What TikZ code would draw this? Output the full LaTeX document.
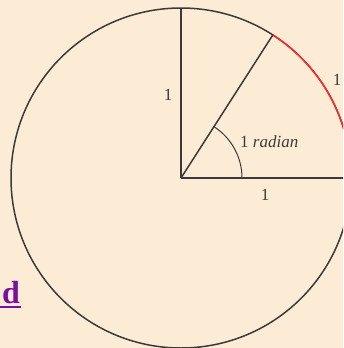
\documentclass[tikz,border=0pt]{standalone}
\usepackage{fontspec}
\setmainfont{Liberation Serif}
\usetikzlibrary{calc}
\definecolor{bgc}{HTML}{FDECD5}
\definecolor{linec}{HTML}{3A3A3A}
\definecolor{redc}{HTML}{FF2A2A}
\definecolor{linkc}{HTML}{7A0E9E}
\begin{document}
\begin{tikzpicture}[x=1pt,y=-1pt,
  lbl/.style={font=\fontsize{17}{19}\selectfont, text=linec, inner sep=0pt},
  edge/.style={draw=linec, line width=1.5pt}]
\useasboundingbox (0,0) rectangle (343,348);
\clip (0,0) rectangle (343,348);
\fill[bgc] (0,0) rectangle (343,348);
\coordinate (O) at (181,178);
\coordinate (T) at (181,8);
\coordinate (R) at (351,178);
\coordinate (P) at ($(O)+(-57.3:170)$);
\draw[edge] (O) circle[radius=170];
\draw[draw=redc, line width=1.5pt] (R) arc[start angle=0, end angle=-57.3, radius=170];
\draw[edge] (O) -- (T);
\draw[edge] (O) -- (R);
\draw[edge] (O) -- (P);
\draw[draw=linec, line width=1pt] ($(O)+(61,0)$) arc[start angle=0, end angle=-57.3, radius=61];
\node[lbl] (l1) at (168,95) {1};
\node[lbl] (l2) at (337,80) {1};
\node[lbl, anchor=west] (rad) at (240,142) {1 \textit{radian}};
\node[lbl] (l3) at (265,195) {1};
\node[anchor=south east, inner sep=0pt, text=linkc, font=\fontsize{32}{34}\selectfont\bfseries] (d) at (20,304) {d};
\draw[linkc, line width=1.6pt] (-2,307) -- (21,307);
\end{tikzpicture}
\end{document}
